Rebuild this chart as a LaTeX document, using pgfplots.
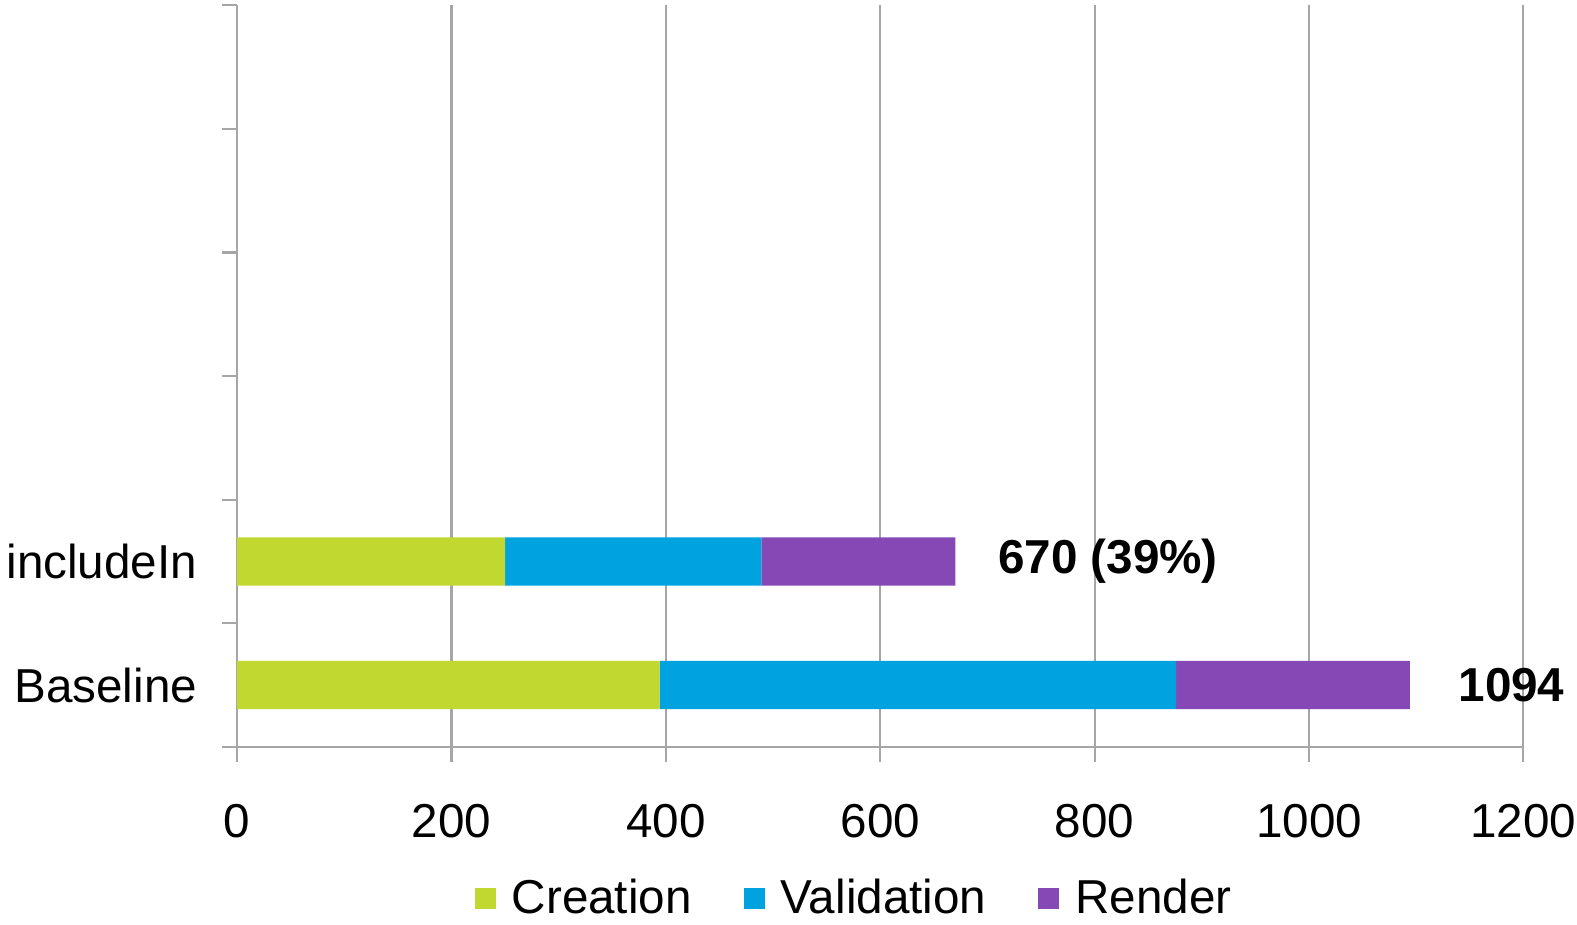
\documentclass[border=0pt]{standalone}
\usepackage{pgfplots}
\pgfplotsset{compat=1.18}
\usepackage{fontspec}
\setmainfont{Liberation Sans}
\definecolor{cre}{RGB}{192,216,47}
\definecolor{val}{RGB}{0,163,224}
\definecolor{ren}{RGB}{133,72,181}
\definecolor{gridc}{RGB}{166,166,166}
\begin{document}
\begin{tikzpicture}
\useasboundingbox (-59.3pt,-44.3pt) rectangle (334.9pt,186.7pt);
\begin{axis}[
  scale only axis, width=321.5pt, height=185.4pt,
  at={(0,0)}, anchor=south west, clip=false,
  xbar stacked, bar width=0.39,
  xmin=0, xmax=1200, ymin=0, ymax=6,
  xtick={0,200,...,1200},
  ytick={0,...,6}, yticklabels={},
  extra y ticks={0.5,1.5}, extra y tick labels={Baseline,includeIn},
  extra y tick style={major tick length=0pt, yticklabel style={xshift=-6.5pt}},
  axis x line*=bottom, axis y line*=left,
  axis line style={draw=gridc, line width=0.55pt, -},
  tick style={draw=gridc, line width=0.55pt},
  major tick length=3.75pt, tick align=outside,
  xmajorgrids, major grid style={draw=gridc, line width=0.55pt},
  font=\fontsize{11.9}{13.5}\selectfont,
  tick label style={font=\fontsize{11.9}{13.5}\selectfont},
  /pgf/number format/assume math mode=true,
  /pgf/number format/1000 sep={},
  xticklabel style={yshift=-7pt},
  legend style={draw=none, at={(0.482,-0.205)}, anchor=center, legend columns=3,
    font=\fontsize{11.9}{13.5}\selectfont,
    /tikz/every even column/.append style={column sep=11pt},
    /tikz/every odd column/.append style={column sep=2pt}},
  legend image code/.code={\fill[#1,draw=none] (0pt,-2.625pt) rectangle (5.25pt,2.625pt);},
]
\addplot[fill=cre, draw=none] coordinates {(394,0.5) (250,1.5)};
\addplot[fill=val, draw=none] coordinates {(482,0.5) (239,1.5)};
\addplot[fill=ren, draw=none] coordinates {(218,0.5) (181,1.5)};
\legend{Creation,Validation,Render}
\node[anchor=west, inner sep=0pt, font=\fontsize{11.9}{13.5}\selectfont\bfseries] at (axis cs:670,1.5) [xshift=10.5pt] {670 (39\%)};
\node[anchor=west, inner sep=0pt, font=\fontsize{11.9}{13.5}\selectfont\bfseries] at (axis cs:1094,0.5) [xshift=12pt] {1094};
\end{axis}
\end{tikzpicture}
\end{document}
